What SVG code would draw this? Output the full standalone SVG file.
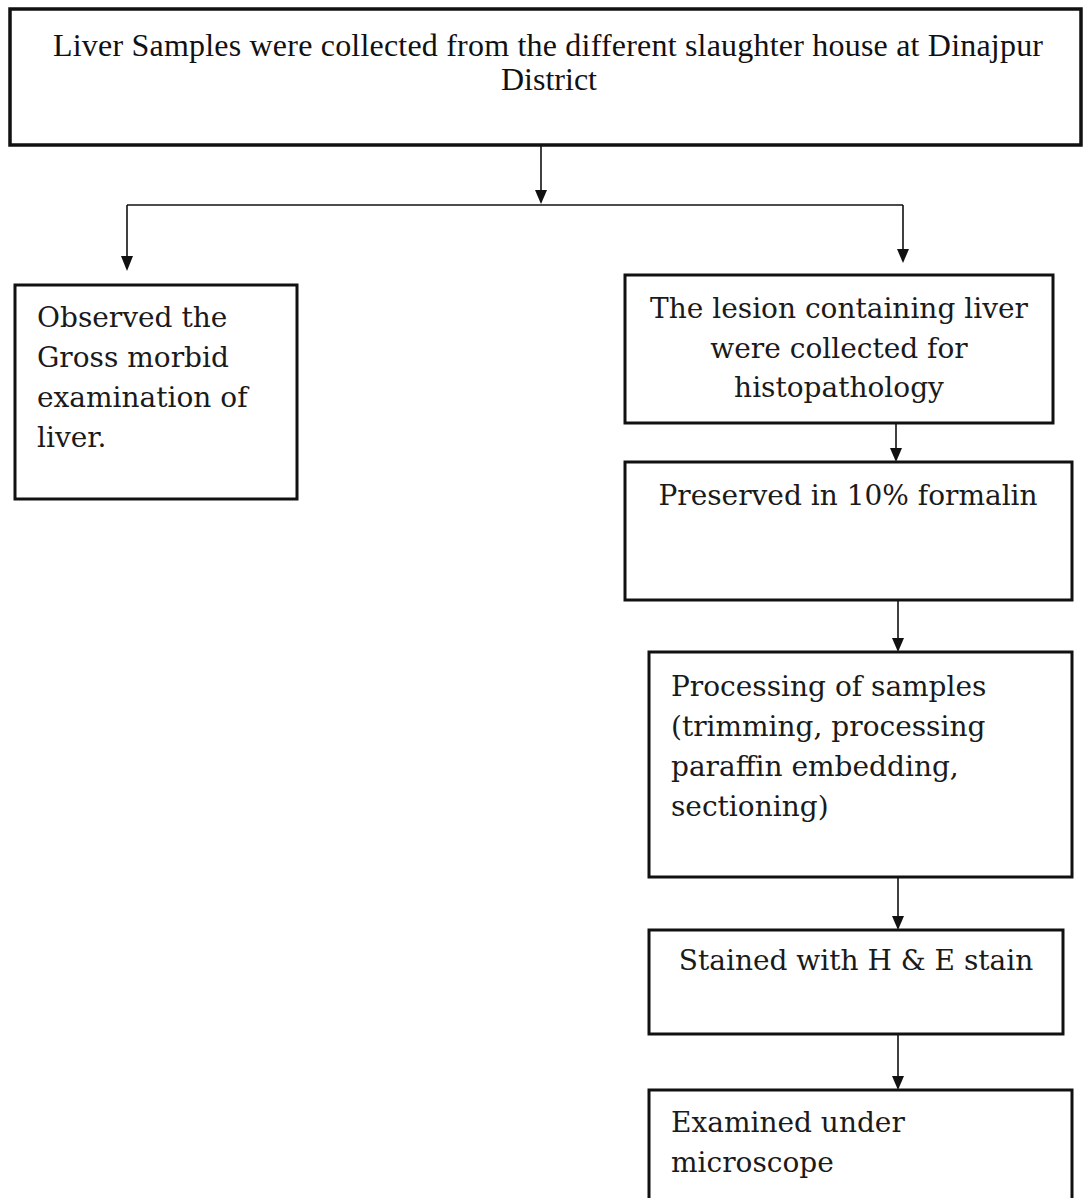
<svg xmlns="http://www.w3.org/2000/svg" width="1083" height="1198" viewBox="0 0 1083 1198">
<style>
.box{fill:#fff;stroke:#111;stroke-width:3}
.t{font-family:"DejaVu Serif","Liberation Serif",serif;font-size:28px;fill:#1a1a1a}
.tt{font-family:"Liberation Serif","Times New Roman",serif;font-size:32px;fill:#111}
.c{text-anchor:middle}
.ln{stroke:#111;stroke-width:1.6;fill:none}
.ah{fill:#111}
</style>
<rect width="1083" height="1198" fill="#fff"/>
<g id="connectors">
<line class="ln" x1="541" y1="146" x2="541" y2="192"/>
<path class="ah" d="M535,190 L547,190 L541,204 Z"/>
<line class="ln" x1="127" y1="205" x2="903" y2="205"/>
<line class="ln" x1="127" y1="205" x2="127" y2="258"/>
<path class="ah" d="M121,256 L133,256 L127,271 Z"/>
<line class="ln" x1="903" y1="205" x2="903" y2="251"/>
<path class="ah" d="M897,249 L909,249 L903,263 Z"/>
<line class="ln" x1="896" y1="423" x2="896" y2="450"/>
<path class="ah" d="M890,448 L902,448 L896,462 Z"/>
<line class="ln" x1="898" y1="600" x2="898" y2="640"/>
<path class="ah" d="M892,638 L904,638 L898,652 Z"/>
<line class="ln" x1="898" y1="877" x2="898" y2="918"/>
<path class="ah" d="M892,916 L904,916 L898,930 Z"/>
<line class="ln" x1="898" y1="1034" x2="898" y2="1078"/>
<path class="ah" d="M892,1076 L904,1076 L898,1090 Z"/>
</g>
<g id="n1">
<rect class="box" x="10" y="9" width="1071" height="136" style="stroke-width:3.5"/>
<text class="tt c" x="548" y="56" textLength="990" lengthAdjust="spacing">Liver Samples were collected from the different slaughter house at  Dinajpur</text>
<text class="tt c" x="549" y="90">District</text>
</g>
<g id="n2">
<rect class="box" x="15" y="285" width="282" height="214"/>
<text class="t" x="37" y="327">Observed the</text>
<text class="t" x="37" y="367">Gross morbid</text>
<text class="t" x="37" y="407">examination of</text>
<text class="t" x="37" y="447">liver.</text>
</g>
<g id="n3">
<rect class="box" x="625" y="275" width="428" height="148"/>
<text class="t c" x="839" y="318">The lesion containing liver</text>
<text class="t c" x="839" y="358">were collected for</text>
<text class="t c" x="839" y="397">histopathology</text>
</g>
<g id="n4">
<rect class="box" x="625" y="462" width="447" height="138"/>
<text class="t c" x="848" y="505">Preserved in 10% formalin</text>
</g>
<g id="n5">
<rect class="box" x="649" y="652" width="423" height="225"/>
<text class="t" x="671" y="696">Processing of samples</text>
<text class="t" x="671" y="736">(trimming, processing</text>
<text class="t" x="671" y="776">paraffin embedding,</text>
<text class="t" x="671" y="816">sectioning)</text>
</g>
<g id="n6">
<rect class="box" x="649" y="930" width="414" height="104"/>
<text class="t c" x="856" y="970">Stained with H &amp; E stain</text>
</g>
<g id="n7">
<rect class="box" x="649" y="1090" width="423" height="120"/>
<text class="t" x="671" y="1132">Examined under</text>
<text class="t" x="671" y="1172">microscope</text>
</g>
</svg>
